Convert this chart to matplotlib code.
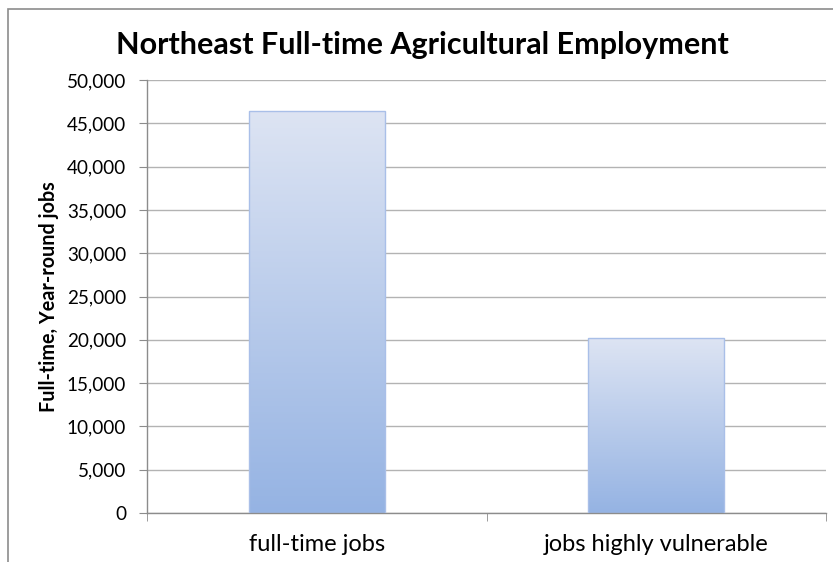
import numpy as np
import matplotlib
matplotlib.use("Agg")
import matplotlib.pyplot as plt
from matplotlib.colors import LinearSegmentedColormap
from matplotlib.patches import Rectangle
from matplotlib.ticker import FuncFormatter, MultipleLocator, FixedLocator

categories = ["full-time jobs", "jobs highly vulnerable"]
values = [46400, 20200]
title = "Northeast Full-time Agricultural Employment"
ylabel = "Full-time, Year-round jobs"

plt.rcParams['font.family'] = ['Lato', 'DejaVu Sans']

fig = plt.figure(figsize=(8.33, 5.62), dpi=100)
ax = fig.add_axes([147/833, 49/562, (826-147)/833, (513-80)/562])

# Figure border (top & left visible)
fig.patches.append(Rectangle((8/833, -0.1), 2.0, (562-9)/562 + 0.1, transform=fig.transFigure,
                             fill=False, edgecolor="#8c8c8c", linewidth=1.2))

cmap = LinearSegmentedColormap.from_list("grad", ["#95B3E3", "#DDE4F3"])
grad = np.linspace(0, 1, 256).reshape(-1, 1)
width = 0.40
x = np.arange(len(categories))
bars = ax.bar(x, values, width=width, color="none", edgecolor="#A9BFE8", linewidth=1.0, zorder=3)
for b in bars:
    x0, y0 = b.get_x(), b.get_y()
    w, h = b.get_width(), b.get_height()
    im = ax.imshow(grad, cmap=cmap, origin="lower", aspect="auto",
                   extent=[x0, x0 + w, y0, y0 + h], zorder=2)
    im.set_clip_path(b)

ax.set_xlim(-0.5, 1.5)
ax.set_ylim(0, 50000)
ax.yaxis.set_major_locator(MultipleLocator(5000))
ax.yaxis.set_major_formatter(FuncFormatter(lambda v, p: f"{int(v):,}"))
ax.grid(axis="y", color="#B3B3B3", linewidth=1.0, zorder=0)
ax.set_axisbelow(True)

ax.set_xticks(x)
ax.set_xticklabels(categories)
ax.xaxis.set_minor_locator(FixedLocator([-0.5, 0.5, 1.5]))
ax.tick_params(axis="x", which="major", length=0, pad=15, labelsize=17, colors="black")
ax.tick_params(axis="x", which="minor", length=6, color="#8c8c8c", direction="out")
ax.tick_params(axis="y", which="major", length=6, color="#8c8c8c", pad=9, labelsize=13.6)

for s in ["top", "right"]:
    ax.spines[s].set_visible(False)
for s in ["left", "bottom"]:
    ax.spines[s].set_color("#8c8c8c")
    ax.spines[s].set_linewidth(1.0)

ax.set_ylabel(ylabel, fontsize=14.2, fontweight="bold", labelpad=6)
fig.text(422/833, (562-45)/562, title, ha="center", va="center", fontsize=22, fontweight="bold")

fig.savefig("out.png", dpi=100)
